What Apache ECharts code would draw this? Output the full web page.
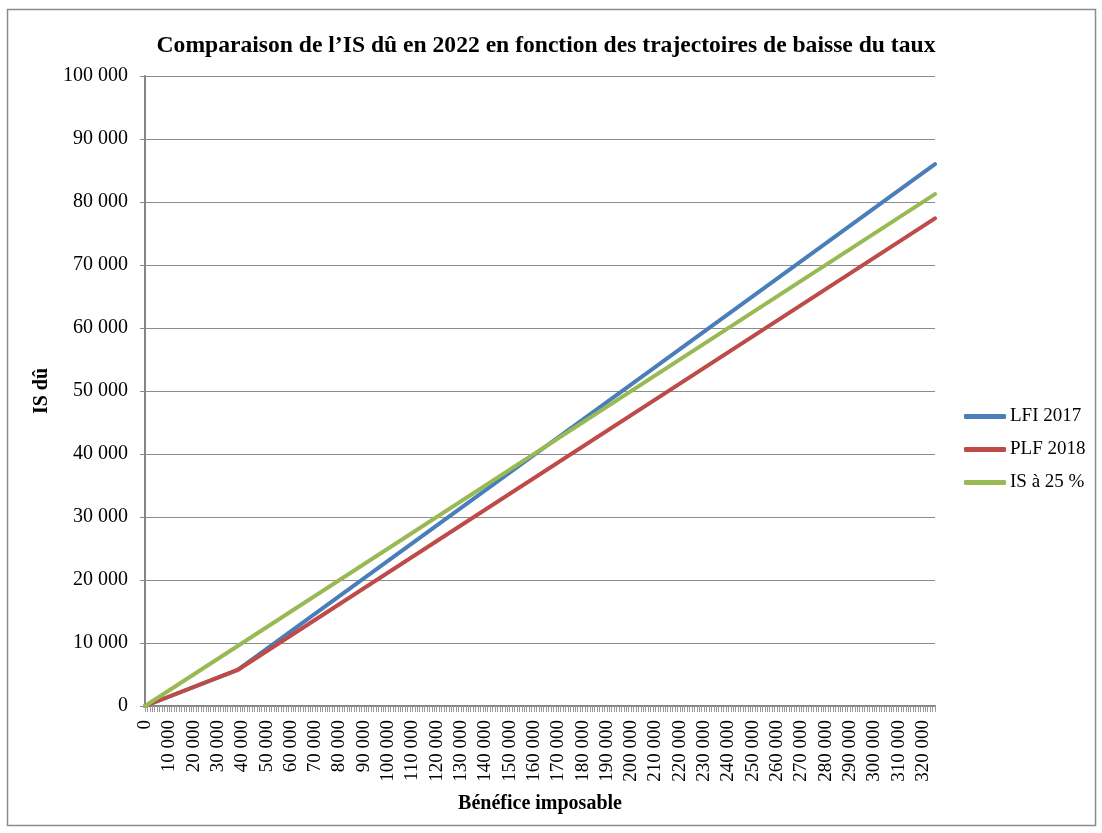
<!DOCTYPE html>
<html>
<head>
<meta charset="utf-8">
<script src="https://cdn.jsdelivr.net/npm/echarts@6/dist/echarts.min.js"></script>
<style>
  html, body { margin: 0; padding: 0; background: #fff; }
  #chart { width: 1102px; height: 833px; }
</style>
</head>
<body>
<div id="chart"></div>
<script>
// points where the lines change slope (bénéfice imposable)
const benefice = [0, 38120, 325000];
const lfi2017 = [0, 5718, 86000];
const plf2018 = [0, 5718, 77400];
const is25 = [0, 9530, 81250];
const seriesNames = ["LFI 2017", "PLF 2018", "IS à 25 %"];

const font = "'Liberation Serif', 'DejaVu Serif', serif";
const fmt = v => String(v).replace(/\B(?=(\d{3})+(?!\d))/g, " ");
const pairs = arr => benefice.map((x, i) => [x, arr[i]]);

let chart = echarts.init(document.getElementById("chart"));
let option = {
  backgroundColor: "#fff",
  textStyle: { fontFamily: font, color: "#000" },
  graphic: [
    {
      type: "rect",
      shape: { x: 7.5, y: 9.5, width: 1088, height: 816 },
      style: { fill: "none", stroke: "#8c8c8c", lineWidth: 1.5 }
    }
  ],
  title: {
    text: "Comparaison de l’IS dû en 2022 en fonction des trajectoires de baisse du taux",
    left: 541,
    textAlign: "center",
    top: 29,
    textStyle: { fontFamily: font, fontSize: 23.6, fontWeight: "bold", color: "#000" }
  },
  legend: {
    orient: "vertical",
    left: 959,
    top: 402,
    itemWidth: 42,
    itemHeight: 5,
    itemGap: 14,
    icon: "roundRect",
    textStyle: { fontFamily: font, fontSize: 19, color: "#000", padding: [0, 0, 0, -1] },
    data: seriesNames
  },
  grid: { left: 145, right: 167, top: 76, bottom: 127, containLabel: false },
  xAxis: {
    type: "value",
    min: 0,
    max: 325000,
    interval: 10000,
    name: "Bénéfice imposable",
    nameLocation: "middle",
    nameGap: 88,
    nameTextStyle: { fontFamily: font, fontSize: 20, fontWeight: "bold", color: "#000" },
    axisLine: { show: true, lineStyle: { color: "#868686", width: 2 } },
    axisTick: { show: true, length: 6, lineStyle: { color: "#9a9a9a" } },
    minorTick: { show: true, splitNumber: 10, length: 6, lineStyle: { color: "#9a9a9a" } },
    splitLine: { show: false },
    axisLabel: {
      rotate: 90,
      fontFamily: font,
      fontSize: 19,
      color: "#000",
      margin: 14,
      showMaxLabel: false,
      formatter: fmt
    }
  },
  yAxis: {
    type: "value",
    min: 0,
    max: 100000,
    interval: 10000,
    name: "IS dû",
    nameLocation: "middle",
    nameGap: 90,
    nameRotate: 90,
    nameTextStyle: { fontFamily: font, fontSize: 20, fontWeight: "bold", color: "#000" },
    axisLine: { show: true, lineStyle: { color: "#868686", width: 2 } },
    axisTick: { show: true, length: 5, lineStyle: { color: "#868686" } },
    splitLine: { show: true, lineStyle: { color: "#8c8c8c", width: 1 } },
    axisLabel: { fontFamily: font, fontSize: 20, color: "#000", margin: 17, formatter: fmt }
  },
  series: [
    {
      name: seriesNames[0],
      type: "line",
      data: pairs(lfi2017),
      symbol: "none",
      color: "#4a7ebb",
      lineStyle: { width: 4, color: "#4a7ebb", cap: "round" }
    },
    {
      name: seriesNames[1],
      type: "line",
      data: pairs(plf2018),
      symbol: "none",
      color: "#be4b48",
      lineStyle: { width: 4, color: "#be4b48", cap: "round" }
    },
    {
      name: seriesNames[2],
      type: "line",
      data: pairs(is25),
      symbol: "none",
      color: "#98b954",
      lineStyle: { width: 4, color: "#98b954", cap: "round" }
    }
  ]
};
chart.setOption(option);
</script>
</body>
</html>
